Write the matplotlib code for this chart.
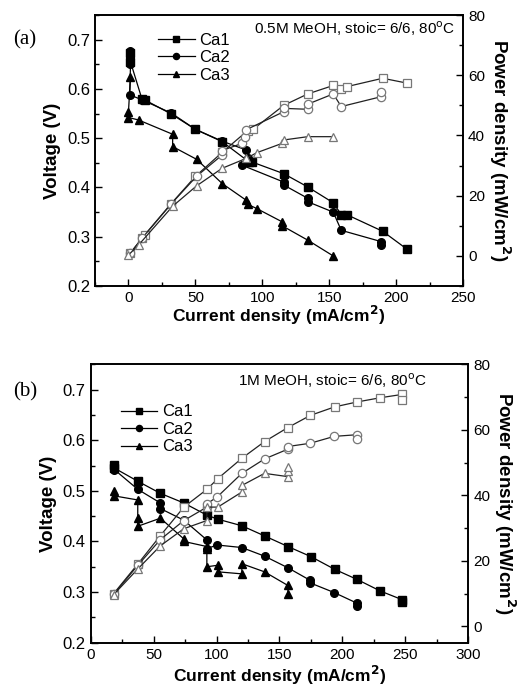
import numpy as np
import matplotlib.pyplot as plt
from matplotlib.ticker import MultipleLocator

plt.rcParams['font.family'] = ['Liberation Sans', 'DejaVu Sans']

# ---- panel (a): 0.5M MeOH ----
a_ca1_i = [1.5, 1.5, 10, 12, 32, 50, 70, 90, 92, 116, 134, 153, 159, 163, 190, 208]
a_ca1_v = [0.672, 0.655, 0.58, 0.578, 0.549, 0.518, 0.493, 0.452, 0.452, 0.428, 0.401, 0.369, 0.345, 0.345, 0.311, 0.275]
a_ca1_pi = [1.5, 10, 12, 32, 50, 70, 89, 93, 116, 134, 153, 159, 163, 190, 208]
a_ca1_p = [1.0, 5.8, 6.9, 17.4, 26.4, 34.4, 41.6, 42.0, 50.0, 53.8, 56.6, 55.5, 56.2, 59.0, 57.4]

a_ca2_i = [1.5, 1.5, 1.5, 1.0, 10, 32, 50, 70, 88, 89, 85, 116, 116, 134, 134, 153, 159, 189, 189]
a_ca2_v = [0.678, 0.665, 0.65, 0.588, 0.578, 0.551, 0.518, 0.494, 0.476, 0.46, 0.445, 0.411, 0.405, 0.378, 0.371, 0.350, 0.313, 0.29, 0.283]
a_ca2_pi = [1.5, 10, 32, 51, 70, 70, 85, 87, 88, 116, 116, 134, 134, 153, 159, 189, 189]
a_ca2_p = [1.0, 5.8, 17.3, 26.5, 33.5, 35.0, 37.4, 39.6, 41.9, 47.9, 49.0, 48.7, 50.4, 53.8, 49.6, 52.9, 54.6]

a_ca3_i = [1.5, 0, 0, 7.5, 33, 33, 51, 70, 88, 89, 96, 115, 115, 134, 153]
a_ca3_v = [0.625, 0.554, 0.542, 0.537, 0.508, 0.483, 0.457, 0.408, 0.374, 0.366, 0.357, 0.33, 0.322, 0.293, 0.261]
a_ca3_pi = [0, 7.5, 33, 51, 70, 88, 96, 115, 116, 134, 153]
a_ca3_p = [0.3, 3.6, 16.5, 23.3, 29.1, 32.4, 34.3, 37.4, 38.5, 39.6, 39.6]

# ---- panel (b): 1M MeOH ----
b_ca1_i = [18.8, 18.8, 37.4, 55.4, 74, 92.3, 101, 120.1, 138.1, 156.7, 175, 193.8, 211.6, 230.2, 247.4, 247.4]
b_ca1_v = [0.552, 0.545, 0.519, 0.495, 0.476, 0.452, 0.444, 0.431, 0.411, 0.390, 0.370, 0.345, 0.325, 0.302, 0.285, 0.281]
b_ca1_pi = [18.3, 37.4, 55.4, 74, 92.3, 101, 120.1, 138.1, 156.7, 174.5, 193.8, 211.6, 230.2, 247.4, 247.4]
b_ca1_p = [10, 19, 27.7, 36.4, 41.8, 45.1, 51.3, 56.4, 60.7, 64.4, 67, 68.5, 69.8, 70.8, 69.2]

b_ca2_i = [18.8, 37.4, 55.4, 55.4, 74, 92.3, 92.3, 100.5, 120.1, 138.1, 156.7, 174.5, 174.5, 193.5, 211.6, 211.6]
b_ca2_v = [0.542, 0.503, 0.476, 0.465, 0.442, 0.403, 0.386, 0.393, 0.388, 0.371, 0.348, 0.323, 0.318, 0.299, 0.278, 0.273]
b_ca2_pi = [18.3, 37.4, 55.4, 74, 92.3, 92.3, 100.5, 120.1, 138.1, 156.7, 156.7, 174.5, 193.5, 211.6, 211.6]
b_ca2_p = [9.8, 18.6, 26.5, 32.3, 36.4, 37.4, 39.5, 46.7, 51.1, 54.1, 54.9, 55.9, 58, 58.5, 57.1]

b_ca3_i = [18.8, 18.8, 37.4, 37.4, 37.4, 55.4, 74, 74, 92.3, 92.3, 92.3, 101, 101, 120.1, 120.1, 138.1, 156.7, 156.7]
b_ca3_v = [0.499, 0.49, 0.482, 0.446, 0.430, 0.446, 0.405, 0.40, 0.39, 0.385, 0.35, 0.353, 0.34, 0.336, 0.356, 0.340, 0.313, 0.297]
b_ca3_pi = [18.3, 37.4, 55.4, 74, 92.3, 92.3, 101, 120.1, 120.1, 138.1, 156.7, 156.7, 156.7]
b_ca3_p = [9.7, 17.5, 24.6, 29.8, 32.3, 36.4, 36.4, 41, 43, 46.7, 45.7, 47.5, 48.7]

labels = ["Ca1", "Ca2", "Ca3"]
markers = ["s", "o", "^"]


def style_axes(ax, ax2, xmin, xmax, pmin, xpad):
    ax.set_xlim(xmin, xmax)
    ax.set_ylim(0.2, 0.75)
    ax2.set_ylim(pmin, 80)
    ax.xaxis.set_major_locator(MultipleLocator(50))
    ax.xaxis.set_minor_locator(MultipleLocator(25))
    ax.yaxis.set_major_locator(MultipleLocator(0.1))
    ax.yaxis.set_minor_locator(MultipleLocator(0.05))
    ax2.yaxis.set_major_locator(MultipleLocator(20))
    ax2.yaxis.set_minor_locator(MultipleLocator(10))
    ax.tick_params(axis="x", which="both", direction="in", top=False, labelsize=11)
    ax.tick_params(axis="y", which="both", direction="in", right=False, labelsize=12)
    ax2.tick_params(axis="y", which="both", direction="in", labelsize=11)
    for a in (ax, ax2):
        a.tick_params(which="major", length=5, width=1)
        a.tick_params(which="minor", length=3, width=1)
        for s in a.spines.values():
            s.set_linewidth(1.2)
    ax.set_xlabel("Current density (mA/cm$^\\mathbf{2}$)", fontsize=12.5, fontweight="bold", labelpad=xpad)
    ax.set_ylabel("Voltage (V)", fontsize=13.5, fontweight="bold", labelpad=4)
    ax2.set_ylabel("Power density (mW/cm$^\\mathbf{2}$)", fontsize=13.5, fontweight="bold",
                   rotation=270, labelpad=20)


def draw_panel(ax, ax2, vdata, pdata):
    handles = []
    for (i, v), (pi, p), m, lab in zip(vdata, pdata, markers, labels):
        h, = ax.plot(i, v, marker=m, color="black", markersize=5.5, linewidth=0.9, label=lab)
        handles.append(h)
        ax2.plot(pi, p, marker=m, color="#222222", markersize=6, linewidth=0.9,
                 markerfacecolor="white", markeredgecolor="#777777", markeredgewidth=0.9)
    return handles


fig = plt.figure(figsize=(5.17, 6.93), dpi=100)

# panel (a)
ax_a = fig.add_axes([0.1838, 0.5873, 0.7118, 0.391])
ax_a2 = ax_a.twinx()
h = draw_panel(ax_a, ax_a2,
               [(a_ca1_i, a_ca1_v), (a_ca2_i, a_ca2_v), (a_ca3_i, a_ca3_v)],
               [(a_ca1_pi, a_ca1_p), (a_ca2_pi, a_ca2_p), (a_ca3_pi, a_ca3_p)])
style_axes(ax_a, ax_a2, -25, 250, -10, -1)
ax_a.legend(handles=h, loc="upper left", bbox_to_anchor=(0.13, 0.99), frameon=False,
            fontsize=12, handlelength=2.2, handletextpad=0.3, labelspacing=0.15,
            markerscale=0.8)
ax_a.text(0.98, 0.95, "0.5M MeOH, stoic= 6/6, 80$^\\mathrm{o}$C", transform=ax_a.transAxes,
          ha="right", va="center", fontsize=11)
fig.text(0.025, 0.943, "(a)", fontsize=15, family="Liberation Serif", va="center")

# panel (b)
ax_b = fig.add_axes([0.1754, 0.0726, 0.7304, 0.4017])
ax_b2 = ax_b.twinx()
h = draw_panel(ax_b, ax_b2,
               [(b_ca1_i, b_ca1_v), (b_ca2_i, b_ca2_v), (b_ca3_i, b_ca3_v)],
               [(b_ca1_pi, b_ca1_p), (b_ca2_pi, b_ca2_p), (b_ca3_pi, b_ca3_p)])
style_axes(ax_b, ax_b2, 0, 300, -5, 2)
ax_b.legend(handles=h, loc="upper left", bbox_to_anchor=(0.04, 0.91), frameon=False,
            fontsize=12, handlelength=2.2, handletextpad=0.3, labelspacing=0.15,
            markerscale=0.8)
ax_b.text(0.39, 0.94, "1M MeOH, stoic= 6/6, 80$^\\mathrm{o}$C", transform=ax_b.transAxes,
          ha="left", va="center", fontsize=11)
fig.text(0.025, 0.434, "(b)", fontsize=15, family="Liberation Serif", va="center")

fig.savefig("out.png", dpi=100)
